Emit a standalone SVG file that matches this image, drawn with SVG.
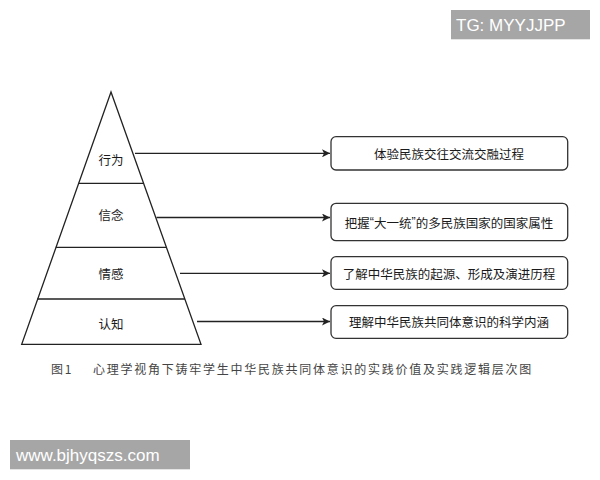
<svg xmlns="http://www.w3.org/2000/svg" width="600" height="480" viewBox="0 0 600 480">
<defs>
<style>
.ln{stroke:#222;stroke-width:1.3;fill:none}
.box{fill:#fff;stroke:#333;stroke-width:1.3}
.t{font-family:"Noto Sans CJK SC","Noto Sans",sans-serif;font-size:12.5px;fill:#1a1a1a;text-anchor:middle;dominant-baseline:central}
.q{font-family:"Liberation Sans",Arial,sans-serif}
.cap{font-family:"Noto Sans CJK SC",sans-serif;font-size:12px;fill:#444;letter-spacing:1.75px}
.wm{fill:#a6a6a6}
.wt{font-family:"Liberation Sans",Arial,sans-serif;font-size:17px;fill:#fff}
</style>
<marker id="ah" viewBox="0 0 10 10" refX="10" refY="5" markerWidth="8" markerHeight="8" markerUnits="userSpaceOnUse" orient="auto">
<path d="M0,0 L10,5 L0,10 L2.5,5 Z" fill="#222"/>
</marker>
</defs>
<rect width="600" height="480" fill="#fff"/>
<g id="pyramid">
<path class="ln" d="M111,92 L21.7,344.3 L201,344.3 Z"/>
<line class="ln" x1="78.5" y1="183.3" x2="143.5" y2="183.3"/>
<line class="ln" x1="55.8" y1="247.3" x2="166.5" y2="247.3"/>
<line class="ln" x1="37.3" y1="299" x2="184.9" y2="299"/>
</g>
<g id="layer-xingwei"><text class="t" x="111" y="159">行为</text></g>
<g id="layer-xinnian"><text class="t" x="111" y="214">信念</text></g>
<g id="layer-qinggan"><text class="t" x="111" y="273">情感</text></g>
<g id="layer-renzhi"><text class="t" x="111" y="323">认知</text></g>
<g id="connectors">
<line class="ln" x1="135" y1="153.3" x2="330" y2="153.3" marker-end="url(#ah)"/>
<line class="ln" x1="156.5" y1="217.5" x2="330" y2="217.5" marker-end="url(#ah)"/>
<line class="ln" x1="180" y1="273.3" x2="330" y2="273.3" marker-end="url(#ah)"/>
<line class="ln" x1="197" y1="321.5" x2="330" y2="321.5" marker-end="url(#ah)"/>
</g>
<g id="box1"><rect class="box" x="331" y="136.7" width="236.7" height="33.3" rx="5"/><text class="t" x="449" y="153.3">体验民族交往交流交融过程</text></g>
<g id="box2"><rect class="box" x="331" y="203.3" width="236.7" height="37.4" rx="5"/><text class="t" x="449" y="222">把握<tspan class="q">“</tspan>大一统<tspan class="q">”</tspan>的多民族国家的国家属性</text></g>
<g id="box3"><rect class="box" x="331" y="256.7" width="236.7" height="32.6" rx="5"/><text class="t" x="449" y="273.3">了解中华民族的起源、形成及演进历程</text></g>
<g id="box4"><rect class="box" x="331" y="305.7" width="236.7" height="32.6" rx="5"/><text class="t" x="449" y="321.5">理解中华民族共同体意识的科学内涵</text></g>
<g id="caption">
<text class="cap" x="51" y="374">图1</text>
<text class="cap" x="93" y="374">心理学视角下铸牢学生中华民族共同体意识的实践价值及实践逻辑层次图</text>
</g>
<g id="watermarks">
<rect class="wm" x="451" y="10" width="139" height="29.3"/>
<text class="wt" x="456" y="31">TG: MYYJJPP</text>
<rect class="wm" x="10" y="440" width="180" height="29.3"/>
<text class="wt" x="16" y="461">www.bjhyqszs.com</text>
</g>
</svg>
